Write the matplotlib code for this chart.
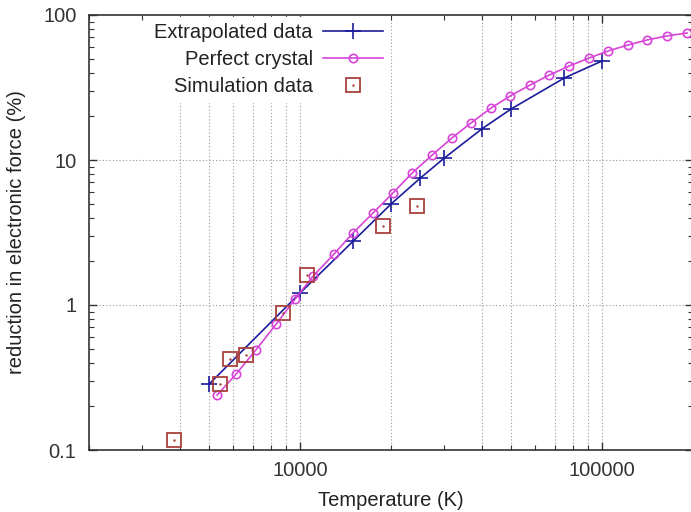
import numpy as np
import matplotlib
matplotlib.use("Agg")
import matplotlib.pyplot as plt
from matplotlib import ticker

plt.rcParams['font.family'] = ['Liberation Sans', 'DejaVu Sans']

# Extrapolated data
t_extra = [5000, 10000, 15000, 20000, 25000, 30000, 40000, 50000, 75000, 100000]
r_extra = [0.285, 1.21, 2.76, 4.97, 7.5, 10.3, 16.4, 22.5, 36.8, 48.2]

# Perfect crystal
t_perfect = [5310, 6140, 7140, 8340, 9630, 11040, 12960, 14970, 17440, 20300,
             23490, 27350, 31840, 36800, 42850, 49550, 57750, 66800, 77850,
             90600, 104700, 121900, 140900, 164000, 191000]
r_perfect = [0.239, 0.334, 0.49, 0.74, 1.10, 1.58, 2.25, 3.14, 4.31, 5.92,
             8.13, 10.8, 14.2, 18.0, 22.8, 27.6, 32.9, 38.5, 44.5,
             50.5, 56.5, 62.1, 67.3, 71.7, 75.2]

# Simulation data
t_sim = [3830, 5430, 5860, 6620, 8780, 10550, 18850, 24370]
r_sim = [0.117, 0.285, 0.425, 0.452, 0.88, 1.61, 3.5, 4.82]

# vertical grid lines seen in the reference
x_grid = [4000, 5000, 6000, 7000, 8000, 9000, 10000,
          20000, 40000, 50000, 70000, 80000, 90000, 100000]

fig = plt.figure(figsize=(6.91, 5.12), dpi=100)
ax = fig.add_axes([89/691, 1 - 450/512, 604/691, 435/512])

ax.set_xscale('log')
ax.set_yscale('log')
ax.set_xlim(2000, 200000)
ax.set_ylim(0.1, 100)

for xg in x_grid:
    ax.axvline(xg, color='#999999', lw=0.8, ls=(0, (1, 2)), zorder=0)
for yg in [1, 10]:
    ax.axhline(yg, color='#999999', lw=0.8, ls=(0, (1, 2)), zorder=0)

l1, = ax.plot(t_extra, r_extra, color='#1c1c9c', lw=1.2, marker='+',
              markersize=11, markeredgewidth=1.2, label='Extrapolated data')
l2, = ax.plot(t_perfect, r_perfect, color='#d844d8', lw=1.2, marker='o',
              markersize=6, markerfacecolor='none', markeredgewidth=1.2,
              label='Perfect crystal')
l3, = ax.plot(t_sim, r_sim, ls='none', marker='s', markersize=10.5,
              markerfacecolor='none', markeredgecolor='#a8403c',
              markeredgewidth=1.3)
l4, = ax.plot(t_sim, r_sim, ls='none', marker='.', markersize=1.5,
              color='#a8403c')

fmt = ticker.FuncFormatter(lambda v, p: '%g' % v)
ax.xaxis.set_major_formatter(fmt)
ax.yaxis.set_major_formatter(fmt)
ax.xaxis.set_minor_formatter(ticker.NullFormatter())
ax.tick_params(which='both', direction='in', top=True, right=True,
               colors='#333333', labelsize=14.5)
ax.tick_params(which='major', length=6, width=1)
ax.tick_params(which='minor', length=3.5, width=0.8)
ax.tick_params(axis='y', pad=9)
ax.tick_params(axis='x', pad=8)
for s in ax.spines.values():
    s.set_color('#333333')
    s.set_linewidth(1.2)

ax.set_xlabel('Temperature (K)', fontsize=14.5, color='#222222', labelpad=8)
ax.set_ylabel('reduction in electronic force (%)', fontsize=14.5,
              color='#222222', labelpad=12)

leg = ax.legend([l1, l2, (l3, l4)],
                ['Extrapolated data', 'Perfect crystal', 'Simulation data'],
                loc='upper right', bbox_to_anchor=(0.497, 1.0 - 2/435),
                borderaxespad=0, borderpad=0.3, markerfirst=False,
                handlelength=3.0, handletextpad=0.5, labelspacing=0.4,
                fontsize=14.5, framealpha=1, edgecolor='white',
                fancybox=False)
for t in leg.get_texts():
    t.set_color('#222222')

fig.savefig('out.png', dpi=100)
